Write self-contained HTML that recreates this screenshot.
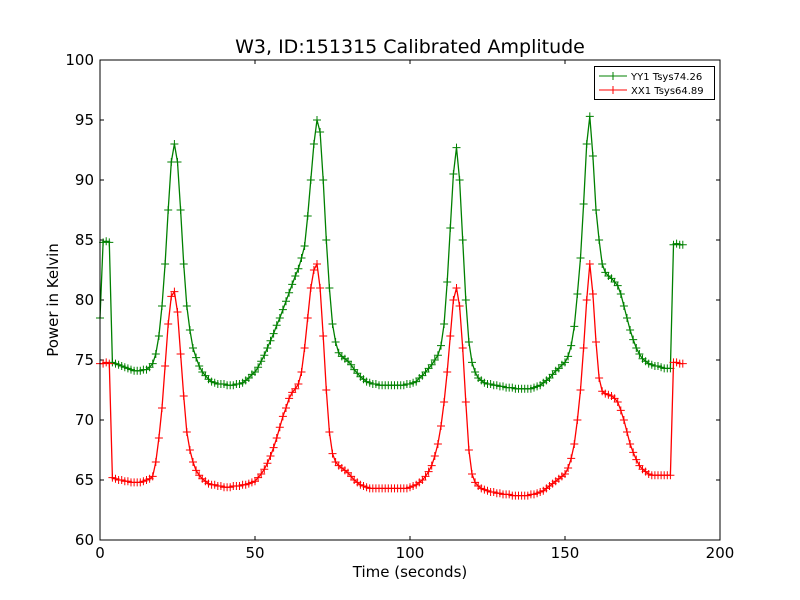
<!DOCTYPE html>
<html><head><meta charset="utf-8"><style>
body{margin:0;background:#fff;}
svg{display:block;font-family:"DejaVu Sans","Liberation Sans",sans-serif;}
</style></head><body>
<svg id="chart" width="800" height="600">
<rect width="800" height="600" fill="#fff"/>
<text x="410" y="53" font-size="19" text-anchor="middle">W3, ID:151315 Calibrated Amplitude</text>
<text x="410" y="577" font-size="15" text-anchor="middle">Time (seconds)</text>
<text transform="translate(58,300) rotate(-90)" font-size="15" text-anchor="middle">Power in Kelvin</text>
<g id="plot"></g>
<rect x="100" y="60" width="620" height="480" fill="none" stroke="#000" stroke-width="1"/>
<g>
<rect x="594.5" y="66.5" width="120" height="33" fill="#fff" stroke="#000"/>
<g><line x1="599" y1="76" x2="627" y2="76" stroke="green"/><path d="M609 76h8M613 72v8" stroke="green"/><text x="631" y="80" font-size="10">YY1 Tsys74.26</text></g>
<g><line x1="599" y1="90" x2="627" y2="90" stroke="red"/><path d="M609 90h8M613 86v8" stroke="red"/><text x="631" y="94" font-size="10">XX1 Tsys64.89</text></g>
</g>
</svg>
<script>
// one sample per second, t = 0..188
const yy1=[
78.5,84.8,84.9,84.8,74.8,74.7,74.6,74.5,74.4,74.3,
74.2,74.1,74.1,74.1,74.2,74.2,74.4,74.7,75.5,77,
79.5,83,87.5,91.5,93,91.5,87.5,83,79.5,77.5,
76,75.2,74.5,74,73.7,73.4,73.2,73.1,73,73,
73,72.9,72.9,72.9,73,73,73.1,73.3,73.5,73.8,
74,74.4,74.9,75.4,76,76.6,77.2,77.9,78.5,79.2,
79.9,80.6,81.3,82,82.6,83.5,84.5,87,90,93,
95,94,90,85,81,78,76.5,75.6,75.3,75.1,
74.9,74.6,74.2,73.9,73.6,73.4,73.2,73.1,73,73,
72.9,72.9,72.9,72.9,72.9,72.9,72.9,72.9,72.9,73,
73,73.1,73.2,73.5,73.7,74,74.3,74.6,75,75.4,
76.2,78,81.5,86,90.5,92.7,90,85,80,76.5,
74.8,74,73.5,73.3,73.1,73,73,72.9,72.9,72.8,
72.8,72.7,72.7,72.7,72.6,72.6,72.6,72.6,72.6,72.6,
72.7,72.8,72.9,73.1,73.3,73.5,73.8,74.1,74.3,74.6,
74.8,75.3,76.2,77.8,80.5,83.5,88,93,95.3,92,
87.5,85,83,82.3,82,81.8,81.5,81.2,80.5,79.5,
78.5,77.5,76.7,76,75.5,75.1,74.9,74.7,74.6,74.5,
74.5,74.4,74.3,74.3,74.3,84.6,84.7,84.6,84.6];
const xx1=[
74.7,74.7,74.8,74.7,65.2,65.1,65,65,64.9,64.9,
64.8,64.8,64.8,64.8,64.9,65,65.1,65.3,66.5,68.5,
71,74.5,78,80.3,80.7,79,75.5,72,69,67.5,
66.5,65.8,65.4,65.1,64.9,64.7,64.6,64.6,64.5,64.5,
64.4,64.4,64.4,64.5,64.5,64.5,64.6,64.6,64.7,64.8,
64.9,65.2,65.5,65.9,66.4,67,67.7,68.5,69.4,70.3,
71,71.8,72.3,72.6,73,74,76,78.5,81,82.5,
83,81,77,72.5,69,67.2,66.5,66.2,66,65.8,
65.6,65.3,65,64.8,64.6,64.5,64.4,64.3,64.3,64.3,
64.3,64.3,64.3,64.3,64.3,64.3,64.3,64.3,64.3,64.3,
64.4,64.5,64.6,64.8,65,65.3,65.7,66.2,67,68,
69.5,71.5,74,77,80,81,79.5,76,71.5,67.5,
65.5,64.8,64.5,64.3,64.2,64.1,64,64,63.9,63.9,
63.8,63.8,63.8,63.7,63.7,63.7,63.7,63.7,63.7,63.8,
63.8,63.9,64,64.1,64.3,64.5,64.7,64.9,65.1,65.3,
65.5,66,66.8,68,70,72.5,76,80,83,80.5,
76.5,73.5,72.4,72.2,72.1,72,71.8,71.5,70.8,70,
69,68,67.3,66.7,66.2,65.9,65.7,65.5,65.4,65.4,
65.4,65.4,65.4,65.4,65.4,74.8,74.8,74.7,74.7];
const xTicks=[0,50,100,150,200];
const yTicks=[60,65,70,75,80,85,90,95,100];
const X=t=>100+(t-0)/200*620;
const Y=v=>540-(v-60)/40*480;
const NS='http://www.w3.org/2000/svg';
const g=document.getElementById('plot');
function mk(tag,attrs,parent){const e=document.createElementNS(NS,tag);for(const k in attrs)e.setAttribute(k,attrs[k]);(parent||g).appendChild(e);return e;}
xTicks.forEach(t=>{
  const tk=mk('path',{d:`M${X(t)} 540v-4M${X(t)} 60v4`,stroke:'#000'});
  
  
  const tl=mk('text',{x:X(t),y:558,'font-size':15,'text-anchor':'middle'});
  
  
  tl.textContent=t;
});
yTicks.forEach(v=>{
  const tk=mk('path',{d:`M100 ${Y(v)}h4M720 ${Y(v)}h-4`,stroke:'#000'});
  
  
  const tl=mk('text',{x:94,y:Y(v)+5,'font-size':15,'text-anchor':'end'});
  
  
  tl.textContent=v;
});
function series(vals,color,name){
  const sg=mk('g',{});
  
  
  const pts=vals.map((v,i)=>X(i).toFixed(1)+','+Y(v).toFixed(1)).join(' ');
  const pl=mk('polyline',{points:pts,fill:'none',stroke:color,'stroke-width':1.3},sg);
  
  
  let d='';
  vals.forEach((v,i)=>{const x=X(i),y=Y(v);d+=`M${x-4} ${y}h8M${x} ${y-4}v8`;});
  const mp=mk('path',{d:d,stroke:color,'stroke-width':1},sg);
  
  
}
series(yy1,'green','series-yy1');
series(xx1,'red','series-xx1');
</script>
</body></html>
